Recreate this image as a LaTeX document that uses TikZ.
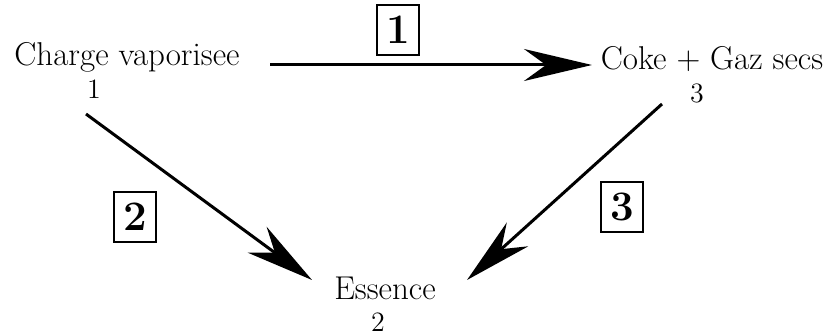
\documentclass[tikz,border=0pt]{standalone}
\usetikzlibrary{arrows.meta}

\begin{document}
\begin{tikzpicture}[
  x=0.5pt, y=-0.5pt,
  species/.style={inner sep=1pt, font=\fontsize{16.5}{19}\selectfont},
  idx/.style={inner sep=1pt, font=\fontsize{14}{16}\selectfont},
  stepnum/.style={draw, line width=1pt, inner sep=0pt,
                  minimum width=21pt, minimum height=25pt,
                  font=\fontsize{21}{23}\selectfont\bfseries},
  arr/.style={line width=1.5pt,
              -{Stealth[length=34pt, width=16pt, inset=11pt]}}
]
  \useasboundingbox (0,0) rectangle (823,336);

  %% species
  \node[species] (charge)  at (127,57)  {Charge vaporisee};
  \node[idx]     (n1)      at (94,89)   {1};
  \node[species] (coke)    at (712,59)  {Coke + Gaz secs};
  \node[idx]     (n3)      at (697,93)  {3};
  \node[species] (essence) at (385,288) {Essence};
  \node[idx]     (n2)      at (378,322) {2};

  %% reaction numbers
  \node[stepnum] (r1) at (398,30)  {1};
  \node[stepnum] (r2) at (135,217) {2};
  \node[stepnum] (r3) at (622,207) {3};

  %% arrow ends
  \coordinate (s1) at (270,65);
  \coordinate (t1) at (592,65);
  \coordinate (s2) at (86,114);
  \coordinate (t2) at (312,280);
  \coordinate (s3) at (662,104);
  \coordinate (t3) at (467,280);

  %% reactions
  \draw[arr] (s1) -- (t1);
  \draw[arr] (s2) -- (t2);
  \draw[arr] (s3) -- (t3);
\end{tikzpicture}
\end{document}
